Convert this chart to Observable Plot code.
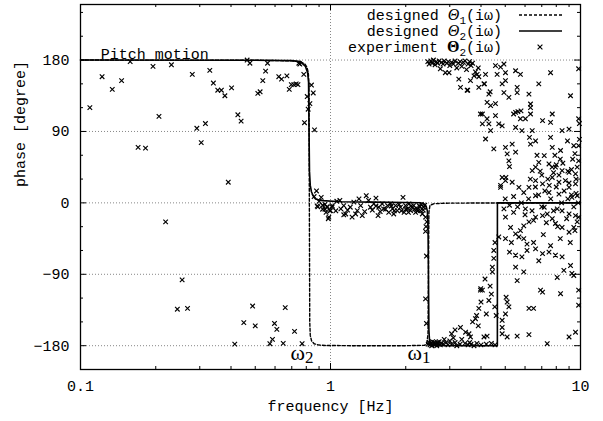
<!DOCTYPE html>
<html>
<head>
<meta charset="utf-8">
<script src="https://cdn.jsdelivr.net/npm/d3@7"></script>
<script src="https://cdn.jsdelivr.net/npm/@observablehq/plot@0.6"></script>
<style>
  html, body { margin: 0; padding: 0; background: white; }
</style>
</head>
<body>
<div id="chart"></div>
<script>
// ---- Data ----
const xTickLabels = [0.1, 1, 10];
const xMinorTicks = [0.2, 0.3, 0.4, 0.5, 0.6, 0.7, 0.8, 0.9, 2, 3, 4, 5, 6, 7, 8, 9];
const yTickLabels = [-180, -90, 0, 90, 180];
const yMinorTicks = [-150, -120, -60, -30, 30, 60, 120, 150, 210, 240];
const yGrid = [-180, -90, 0, 90, 180];
const xGrid = [1];

// designed Θ1(iω) (dashed)
const theta1Freq  = [0.1, 0.5, 0.7, 0.76, 0.79, 0.805, 0.815, 0.82, 0.823, 0.826, 0.83, 0.84, 0.86, 0.9, 0.95, 1.2, 2.0, 2.38, 2.43, 2.455, 2.465, 2.475, 2.5, 2.6, 3, 10];
const theta1Phase = [180, 179.8, 179, 177.5, 175, 171, 164, 150, 0, -150, -167, -174, -177.5, -179.2, -179.7, -180, -180, -179.5, -177, -165, -90, -12, -3, -1, -0.3, 0];

// designed Θ2(iω) (solid)
const theta2Freq  = [0.1, 0.5, 0.7, 0.758, 0.794, 0.81, 0.817, 0.82, 0.824, 0.83, 0.839, 0.855, 0.871, 0.9, 0.93, 1.1, 1.5, 2.0, 2.29, 2.36, 2.41, 2.44, 2.455, 2.465, 2.475, 2.49, 2.52, 2.56, 3, 4.65, 4.652, 10];
const theta2Phase = [180, 179.8, 179.3, 178, 172, 164, 152, 100, 40, 22, 14, 8, 5, 3.5, 2.8, 1.5, 1, 0.5, 0.2, -1, -4, -10, -30, -90, -160, -174, -178, -179.5, -180, -180, 0, 0];

// experiment Θ2(iω): [frequency Hz, phase deg]
const experimentPoints = [
  // low frequency
  [0.109,120],[0.122,159],[0.134,143],[0.146,154],[0.158,178],[0.170,70],[0.182,69],[0.195,172],[0.206,109],[0.219,-24],
  [0.231,174],[0.244,-134],[0.255,-97],[0.268,-133],[0.280,162],[0.292,94],[0.304,76],[0.316,100],[0.329,167],[0.340,151],
  [0.354,142],[0.366,142],[0.378,135],[0.390,26],[0.402,145],[0.414,-178],[0.426,111],[0.439,103],[0.450,-151],[0.464,180],
  [0.476,176],[0.488,-130],[0.500,-155],[0.512,138],[0.523,140],[0.536,154],[0.550,166],[0.560,176],[0.572,-177.5],[0.586,-172],
  [0.597,-152],[0.610,-159.5],[0.621,159],[0.637,156],[0.647,-177],[0.659,-132],[0.669,160],[0.684,143],[0.697,149],[0.713,149],
  [0.718,-162],[0.729,150],[0.741,149],[0.747,176],[0.754,175],[0.770,-177.5],[0.782,162],[0.787,101],
  // first transition
  [0.807,134],[0.814,118],[0.827,125],[0.839,148.5],[0.853,138.5],[0.863,92],[0.879,15],[0.918,7],[0.890,-5],[0.970,-5.5],
  [0.994,-10],[0.985,-18],[1.016,-5],[1.09,3],[0.86,8],[0.90,2],[0.93,-3],[0.95,-8],[0.96,-12],
  // band near 0 deg
  [0.885,-4],[0.97,-4.7],[1.0,-9.7],[0.98,-20],[1.016,-3.4],[1.06,2],[1.10,-7.5],[1.13,-3.4],[1.17,-9],[1.20,-5.5],
  [1.24,1],[1.26,-14],[1.28,-9.7],[1.34,-16],[1.32,-3.4],[1.39,9],[1.42,3],[1.445,-5.5],[1.49,-1.3],[1.55,-16],
  [1.56,-5.5],[1.61,-1.3],[1.63,-7.5],[1.69,-3.4],[1.71,-12],[1.74,-1.3],[1.77,-7.5],[1.79,-14],[1.82,-3.4],[1.85,-9.7],
  [1.905,-5.5],[1.95,7],[1.97,-12],[1.995,-3.4],[2.03,-7.5],[2.06,-1.3],[2.09,-9.7],[2.12,-5.5],[2.15,-3.4],[2.19,-12],
  [2.22,-7.5],[2.26,-3.4],[2.29,-9.7],[2.33,-14],[2.36,-5.5],[2.40,-18],[2.43,-24],
  [0.93,-8],[0.95,-2],[1.05,-10],[1.15,-14],[1.22,-18],[1.37,-11],[1.47,-9],[1.52,-4],[1.58,-11],[1.66,-8],
  [1.75,-4],[1.80,-10],[1.88,-2],[1.92,-10],[2.0,-8],[2.05,-12],[2.1,-4],[2.17,-8],[2.24,-10],[2.28,-5],
  [2.31,-2],[2.35,-9],[2.38,-3],[1.30,5],[1.13,-15],[1.52,6],
  // second transition
  [2.40,-36],[2.42,-67],[2.40,-121],[2.42,-152],[2.41,-30],
  // cluster at -180
  [2.46,-178],[2.48,-176],[2.50,-179],[2.52,-177],[2.54,-180],[2.56,-175],[2.58,-178],[2.60,-176],[2.62,-179],[2.64,-177],
  [2.66,-180],[2.68,-176],[2.70,-178],[2.72,-175],[2.75,-179],[2.78,-177],[2.82,-178],[2.85,-172],[2.9,-176],[2.95,-179],
  [3.0,-174],[3.05,-178],[3.1,-170],[3.15,-176],[3.2,-180],[3.3,-178],[3.35,-172],[3.45,-177],[3.55,-179],[3.6,-176],
  [3.65,-178],[3.75,-180],[3.85,-177],[4.0,-179],[4.2,-178],[4.4,-177],[4.55,-179],
  // rising cloud 3-4.6 Hz
  [3.05,-165],[3.15,-160],[3.31,-157],[3.47,-163],[3.58,-165],[3.63,-169],[3.80,-146],[3.84,-142],[3.92,-133],[4.05,-110],
  [4.11,-169],[4.15,-96],[4.23,-168],[4.30,-123],[4.44,-87],[4.44,-81],[4.50,-70],[4.54,-131],[4.60,-142],[3.7,-150],
  [3.9,-155],[4.0,-125],[4.2,-140],[4.35,-105],[4.4,-115],[3.98,-110],[3.99,-108],[4.5,-60],[4.55,-50],
  // top cluster near 180
  [2.45,178],[2.48,175],[2.52,179],[2.55,176],[2.58,180],[2.62,174],[2.65,178],[2.68,176],[2.72,179],[2.75,169],
  [2.78,177],[2.82,175],[2.85,179],[2.88,164],[2.92,176],[2.96,178],[3.0,173],[3.05,177],[3.1,175],[3.15,179],
  [3.2,170],[3.25,176],[3.3,178],[3.35,172],[3.4,177],[3.45,179],[3.5,168],[3.55,175],[3.6,178],[3.65,173],
  [3.7,176],[3.75,160],[3.8,165],[3.9,170],
  [2.98,164],[3.26,156],[3.31,145.5],[3.52,142],[3.54,142],[3.63,154],[3.86,162],[3.92,159],[3.92,145.5],[4.11,150],
  [4.13,150],[4.17,162],[4.30,137],[4.35,140],
  // upper right cloud
  [4.57,173],[4.64,162],[4.79,171],[4.94,175],[5.01,164],[4.86,150],[5.01,154],[5.50,166.5],[5.75,162],[5.58,145.5],
  [5.58,139],[4.94,139],[5.17,133],[6.22,137],[6.81,150],[7.59,164],[9.12,135],[9.83,169],[4.23,126.6],[4.37,122.5],
  [4.57,125],[4.05,112],[4.23,106],[4.30,99.5],[4.57,110],[4.71,99.5],[4.86,97],[4.37,91],[4.17,80.5],[4.50,68],
  [5.01,70],[5.09,61.7],[5.33,74],[5.17,53],[5.2,45.7],[5.50,64],[5.40,112],[5.5,114],[5.62,115],[5.78,116],
  [5.75,106],[6.02,106],[6.31,112],[6.31,120],[6.31,124.6],[5.5,95],[5.83,91],[6.25,82.6],[6.41,91],[6.31,74],
  [6.61,78],[7.05,103.6],[7.59,101.5],[7.71,112],[7.59,82.6],[7.71,70],[8.32,66],[8.87,78],[9.0,93],[9.4,72],
  [9.83,72],[9.83,106],[8.44,91],[7.16,59.5],[6.81,51],[6.61,45],[6.41,40.6],[7.48,49],[7.94,45],[8.44,40.6],
  [9.0,38.5],[9.55,36.5],[9.83,53],[4.86,32],[5.01,28],[4.79,22],[5.33,26],[5.67,19.6],[5.93,13],[6.22,19.6],
  [6.61,28],[7.05,24],[7.71,32],[8.20,26],[9.0,19.6],[9.55,24],[7.48,13],[8.2,11],[6.61,9],[9.24,7],
  [9.7,9],[3.98,112],[4.05,99.5],[4.79,19.6],[5.03,32],[9.9,100],[9.9,80],
  // dense area near 0 at right
  [6.6,20],[6.8,10],[7.0,-5],[7.2,15],[7.4,30],[7.6,5],[7.8,-10],[8.0,20],[8.2,35],[8.4,0],
  [8.6,15],[8.8,-20],[9.0,25],[9.2,10],[9.4,-5],[9.6,30],[9.8,0],[6.9,40],[7.3,-25],[7.7,45],
  [8.1,-30],[8.5,50],[8.9,40],[9.3,55],[9.7,45],[6.4,-10],[6.2,5],[6.0,-15],[5.8,0],[5.6,-5],
  [5.4,8],[5.2,-3],[5.0,5],[7.1,-40],[8.3,-45],[9.1,-50],[9.5,-35],[7.9,60],[6.7,60],[6.3,30],
  [7.0,35],[7.5,22],[8.0,48],[8.7,28],[9.2,42],[9.6,12],[8.3,55],[7.8,38],[8.9,5],[9.5,62],
  // lower right region
  [4.94,-7.5],[5.01,-18],[5.25,-31],[4.71,-43],[5.01,-45],[5.29,-50],[5.20,-62],[5.50,-66],[5.83,-68],[6.11,-60],
  [5.5,-81],[5.58,-98],[5.93,-87],[5.04,-119],[5.09,-125],[5.17,-131],[5.01,-140],[4.86,-148],[4.86,-157],[4.86,-165],
  [5.09,-169],[5.58,-168],[6.22,-166],[6.22,-133],[6.49,-133],[6.92,-110],[7.05,-112.5],[7.36,-177.5],[8.32,-114.5],[8.07,-94],
  [9.55,-163],[9.0,-169],[9.83,-129],[9.83,-110],[9.24,-89],[9.4,-91.5],[8.58,-85],[9.12,-79],[8.44,-68],[7.94,-66],
  [7.05,-64],[7.48,-62],[7.59,-54],[6.81,-73],[6.61,-58],[6.49,-50],[6.11,-52],[5.93,-45],[5.67,-43],[5.5,-39],
  [5.75,-35],[5.93,-29],[6.22,-24],[6.49,-22],[6.61,-18],[7.05,-16],[7.36,-14],[7.71,-20],[7.94,-26],[8.44,-31],
  [9.0,-37],[9.4,-31],[9.7,-24],[9.83,-18],[9.55,-16],[9.0,-14],[8.44,-10],[8.07,-7.5],[7.16,-5.5],[6.02,-7.5],
  [5.4,-12]
];

// annotations
const annotations = [
  {label: "ω", sub: "2", f: 0.773, p: -198.5},
  {label: "ω", sub: "1", f: 2.27, p: -198.5}
];
const pitchLabel = {text: "Pitch motion", f: 0.1205, p: 181};

// ---- Build tables ----
const theta1 = theta1Freq.map((f, i) => ({f, p: theta1Phase[i]}));
const theta2 = theta2Freq.map((f, i) => ({f, p: theta2Phase[i]}));
const experiment = experimentPoints.map(([f, p]) => ({f, p}));

// ---- Layout ----
const W = 603, H = 421;
const mL = 80, mR = 23, mT = 4, mB = 52;
const xDom = [0.1, 10], yDom = [-210, 250];
const pxPerDecade = (W - mL - mR) / Math.log10(xDom[1] / xDom[0]);
const pxPerDeg = (H - mT - mB) / (yDom[1] - yDom[0]);
const majorLen = 6, minorLen = 3;
const yLen = px => px / pxPerDeg;
const xFac = px => Math.pow(10, px / pxPerDecade);

const xTicksAll = [...xTickLabels.map(v => ({v, len: majorLen})), ...xMinorTicks.map(v => ({v, len: minorLen}))];
const yTicksAll = [...yTickLabels.map(v => ({v, len: majorLen})), ...yMinorTicks.map(v => ({v, len: minorLen}))];

const font = "'Liberation Mono', 'DejaVu Sans Mono', monospace";

const chart = Plot.plot({
  width: W,
  height: H,
  marginLeft: mL,
  marginRight: mR,
  marginTop: mT,
  marginBottom: mB,
  style: {background: "white", fontFamily: font, fontSize: "15px", color: "black"},
  x: {type: "log", domain: xDom},
  y: {domain: yDom},
  marks: [
    Plot.gridY(yGrid, {stroke: "#000", strokeOpacity: 0.6, strokeDasharray: "1,2", strokeWidth: 0.8}),
    Plot.gridX(xGrid, {stroke: "#000", strokeOpacity: 0.6, strokeDasharray: "1,2", strokeWidth: 0.8}),
    Plot.dot(experiment, {x: "f", y: "p", symbol: "times", r: 2.2, stroke: "black", strokeWidth: 1.15}),
    Plot.line(theta1, {x: "f", y: "p", stroke: "black", strokeWidth: 1.4, strokeDasharray: "3,2"}),
    Plot.line(theta2, {x: "f", y: "p", stroke: "black", strokeWidth: 1.6}),
    // inward ticks
    Plot.ruleX(xTicksAll, {x: "v", y1: yDom[0], y2: d => yDom[0] + yLen(d.len), stroke: "black", strokeWidth: 1}),
    Plot.ruleX(xTicksAll, {x: "v", y1: yDom[1], y2: d => yDom[1] - yLen(d.len), stroke: "black", strokeWidth: 1}),
    Plot.ruleY(yTicksAll, {y: "v", x1: xDom[0], x2: d => xDom[0] * xFac(d.len), stroke: "black", strokeWidth: 1}),
    Plot.ruleY(yTicksAll, {y: "v", x1: xDom[1], x2: d => xDom[1] / xFac(d.len), stroke: "black", strokeWidth: 1}),
    Plot.frame({stroke: "black", strokeWidth: 1.3}),
    Plot.axisX(xTickLabels, {anchor: "bottom", tickSize: 0, tickPadding: 11, tickFormat: d => String(d), label: null, fontSize: 15}),
    Plot.axisY(yTickLabels, {anchor: "left", tickSize: 0, tickPadding: 11, label: null, fontSize: 15}),
    Plot.text(["frequency [Hz]"], {frameAnchor: "bottom", dy: 41, fontSize: 15, fill: "black"}),
    Plot.text(["phase [degree]"], {frameAnchor: "left", dx: -60, rotate: -90, fontSize: 15, fill: "black"}),
    Plot.text([pitchLabel], {x: "f", y: "p", text: "text", textAnchor: "start", lineAnchor: "bottom", fontSize: 15, fill: "black"})
  ]
});

document.getElementById("chart").appendChild(chart);

// ---- Legend and annotations ----
const svg = d3.select(chart);
const xs = chart.scale("x"), ys = chart.scale("y");

const ann = svg.append("g").attr("font-family", "'Liberation Serif', 'DejaVu Serif', serif").attr("fill", "black");
annotations.forEach(a => {
  const t = ann.append("text")
    .attr("x", xs.apply(a.f))
    .attr("y", ys.apply(a.p))
    .attr("font-size", 22);
  t.append("tspan").text(a.label);
  t.append("tspan").attr("font-size", 17).attr("dy", 3).text(a.sub);
});

const legendRows = [
  {pre: "designed ", sym: "Θ", symStyle: "italic", symWeight: "normal", sub: "1", post: "(iω)", kind: "dashed", y: 15},
  {pre: "designed ", sym: "Θ", symStyle: "italic", symWeight: "normal", sub: "2", post: "(iω)", kind: "solid", y: 31},
  {pre: "experiment ", sym: "Θ", symStyle: "normal", symWeight: "bold", sub: "2", post: "(iω)", kind: "point", y: 47}
];
const lg = svg.append("g").attr("font-family", font).attr("font-size", 15).attr("fill", "black");
legendRows.forEach(r => {
  const t = lg.append("text").attr("x", 502).attr("y", r.y).attr("dy", "0.35em").attr("text-anchor", "end");
  t.append("tspan").text(r.pre);
  t.append("tspan").attr("font-family", "'Liberation Serif', 'DejaVu Serif', serif")
    .attr("font-style", r.symStyle).attr("font-weight", r.symWeight).attr("font-size", 16).text(r.sym);
  t.append("tspan").attr("font-size", 11).attr("dy", 4).text(r.sub);
  t.append("tspan").attr("dy", -4).text(r.post);
  if (r.kind === "dashed") {
    lg.append("line").attr("x1", 519).attr("x2", 562).attr("y1", r.y).attr("y2", r.y)
      .attr("stroke", "black").attr("stroke-width", 1.4).attr("stroke-dasharray", "3,2");
  } else if (r.kind === "solid") {
    lg.append("line").attr("x1", 519).attr("x2", 562).attr("y1", r.y).attr("y2", r.y)
      .attr("stroke", "black").attr("stroke-width", 1.6);
  } else {
    const s = 2.4;
    lg.append("path").attr("d", `M${540 - s},${r.y - s}L${540 + s},${r.y + s}M${540 - s},${r.y + s}L${540 + s},${r.y - s}`)
      .attr("stroke", "black").attr("stroke-width", 1.15).attr("fill", "none");
  }
});
</script>
</body>
</html>
